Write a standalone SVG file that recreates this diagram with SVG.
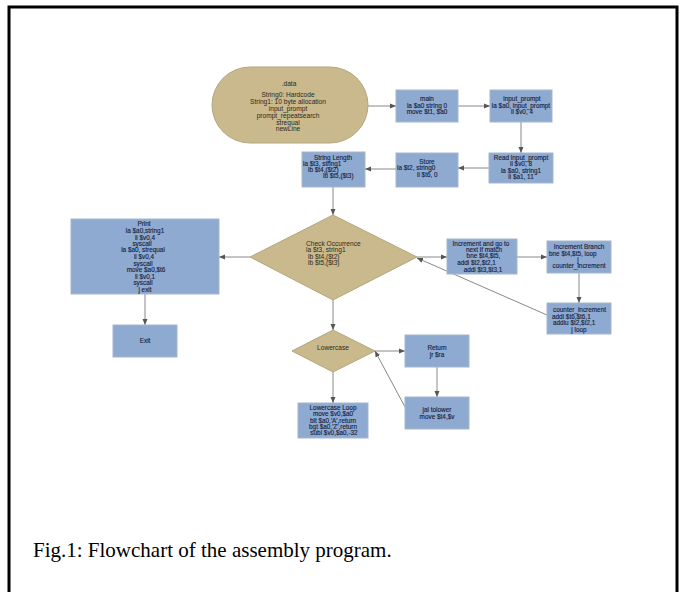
<svg xmlns="http://www.w3.org/2000/svg" width="680" height="592" viewBox="0 0 680 592">
<defs>
<marker id="ah" viewBox="0 0 6 6" refX="6" refY="3" markerWidth="6" markerHeight="6" markerUnits="userSpaceOnUse" orient="auto">
<path d="M0,0.5 L6,3 L0,5.5 Z" fill="#555"/>
</marker>
<style>
.box{fill:#8eaad1;stroke:#a6b6cc;stroke-width:1}
.tan{fill:#c9b98c;stroke:#b3a67e;stroke-width:1}
.t{font-family:"Liberation Sans",Arial,sans-serif;font-size:6.4px;fill:#16203a;text-anchor:middle;stroke:#16203a;stroke-width:0.12}
.tl{font-family:"Liberation Sans",Arial,sans-serif;font-size:6.4px;fill:#16203a;stroke:#16203a;stroke-width:0.12}
.tt{font-family:"Liberation Sans",Arial,sans-serif;font-size:6.6px;fill:#2a2a22;text-anchor:middle}
.ttl{font-family:"Liberation Sans",Arial,sans-serif;font-size:6.6px;fill:#2a2a22}
.c{stroke:#888;stroke-width:1;fill:none;marker-end:url(#ah)}
</style>
</defs>
<rect width="680" height="592" fill="#fff"/>
<path d="M9,600 V7 H677 V600" fill="none" stroke="#000" stroke-width="3"/>

<g id="connectors">
<line class="c" x1="368" y1="106" x2="396" y2="106"/>
<line class="c" x1="458" y1="106" x2="490" y2="106"/>
<line class="c" x1="521" y1="122" x2="521" y2="153"/>
<line class="c" x1="489" y1="168" x2="458" y2="168"/>
<line class="c" x1="396" y1="169" x2="365" y2="169"/>
<line class="c" x1="333" y1="187" x2="333" y2="215"/>
<line class="c" x1="250" y1="257" x2="219" y2="257"/>
<line class="c" x1="145" y1="294" x2="145" y2="325"/>
<line class="c" x1="417" y1="257" x2="447" y2="257"/>
<line class="c" x1="517" y1="257" x2="547" y2="257"/>
<line class="c" x1="579" y1="273" x2="579" y2="303"/>
<line class="c" x1="547" y1="315" x2="417" y2="258"/>
<line class="c" x1="333" y1="300" x2="333" y2="330"/>
<line class="c" x1="375" y1="351" x2="405" y2="351"/>
<line class="c" x1="437" y1="367" x2="437" y2="397"/>
<line class="c" x1="405" y1="407" x2="375" y2="351"/>
<line class="c" x1="333" y1="372" x2="333" y2="403"/>
</g>

<g id="data">
<rect class="tan" x="212" y="67" width="156" height="76" rx="38" ry="38"/>
<text class="tt" x="289" y="85.5">.data</text>
<text class="tt" x="288" y="97">String0: Hardcode</text>
<text class="tt" x="288" y="104.2">String1: 10 byte allocation</text>
<text class="tt" x="288" y="111">input_prompt</text>
<text class="tt" x="288" y="117.8">prompt_repeatsearch</text>
<text class="tt" x="288" y="124.6">strequal</text>
<text class="tt" x="288" y="131.4">newLine</text>
</g>

<g id="main">
<rect class="box" x="396" y="90" width="62" height="32"/>
<text class="t" x="427" y="101.3">main</text>
<text class="t" x="427" y="107.8">la $a0 string 0</text>
<text class="t" x="427" y="114.3">move $t1, $a0</text>
</g>

<g id="input_prompt">
<rect class="box" x="490" y="90" width="62" height="32"/>
<text class="t" x="522" y="101.3">input_prompt</text>
<text class="t" x="521" y="107.8">la $a0, input_prompt</text>
<text class="t" x="522" y="114.3">li $v0, 4</text>
</g>

<g id="read_input_prompt">
<rect class="box" x="489" y="153" width="64" height="30"/>
<text class="t" x="521" y="160.3">Read input_prompt</text>
<text class="t" x="521" y="166.4">li $v0, 8</text>
<text class="t" x="521" y="172.5">la $a0, string1</text>
<text class="t" x="521" y="178.6">li $a1, 11</text>
</g>

<g id="store">
<rect class="box" x="396" y="153" width="62" height="34"/>
<text class="t" x="427" y="164">Store</text>
<text class="tl" x="397" y="170.3">la $t2, string0</text>
<text class="tl" x="417" y="176.6">li $t6, 0</text>
</g>

<g id="string_length">
<rect class="box" x="302" y="152" width="63" height="35"/>
<text class="t" x="333" y="159.8">String Length</text>
<text class="tl" x="303" y="166">la $t3, string1</text>
<text class="tl" x="308" y="172.2">lb $t4,($t2)</text>
<text class="tl" x="323" y="178.4">lb $t5,($t3)</text>
</g>

<g id="check_occurrence">
<polygon class="tan" points="333,215 417,257 333,300 250,257"/>
<text class="ttl" x="306" y="246">Check Occurrence</text>
<text class="ttl" x="306" y="252.4">la $t3, string1</text>
<text class="ttl" x="308" y="258.8">lb $t4,($t2)</text>
<text class="ttl" x="308" y="265.2">lb $t5,($t3)</text>
</g>

<g id="print">
<rect class="box" x="71" y="219" width="148" height="75"/>
<text class="t" x="144" y="226.3">Print</text>
<text class="t" x="145" y="233">la $a0,string1</text>
<text class="t" x="145" y="239.6">li $v0,4</text>
<text class="t" x="142" y="245.8">syscall</text>
<text class="t" x="143" y="252.3">la $a0, strequal</text>
<text class="t" x="144" y="259">li $v0,4</text>
<text class="t" x="143" y="265.6">syscall</text>
<text class="t" x="146" y="272.3">move $a0,$t6</text>
<text class="t" x="145" y="278.5">li $v0,1</text>
<text class="t" x="143" y="285">syscall</text>
<text class="t" x="145" y="291.6">j exit</text>
</g>

<g id="exit">
<rect class="box" x="113" y="325" width="64" height="32"/>
<text class="t" x="145" y="343.3">Exit</text>
</g>

<g id="increment_next">
<rect class="box" x="447" y="239" width="70" height="35"/>
<text class="t" x="481" y="246.3">Increment and go to</text>
<text class="t" x="484" y="252.3">next if match</text>
<text class="t" x="483.5" y="258.3">bne $t4,$t5,</text>
<text class="t" x="476.5" y="265">addi $t2,$t2,1</text>
<text class="t" x="483" y="271.6">addi $t3,$t3,1</text>
</g>

<g id="increment_branch">
<rect class="box" x="547" y="241" width="64" height="32"/>
<text class="t" x="579" y="249">Increment Branch</text>
<text class="tl" x="549" y="255.6">bne $t4,$t5, loop</text>
<text class="t" x="578" y="261.6">j</text>
<text class="t" x="579" y="268.3">counter_increment</text>
</g>

<g id="counter_increment">
<rect class="box" x="547" y="303" width="64" height="31"/>
<text class="t" x="579.5" y="312.3">counter_increment</text>
<text class="tl" x="552" y="318.8">addi $t6,$t6,1</text>
<text class="tl" x="553" y="325.3">addiu $t2,$t2,1</text>
<text class="t" x="579" y="331.6">j loop</text>
</g>

<g id="lowercase">
<polygon class="tan" points="333,330 375,351 333,372 292,351"/>
<text class="tt" x="333" y="350">Lowercase</text>
</g>

<g id="return">
<rect class="box" x="405" y="335" width="64" height="32"/>
<text class="t" x="437" y="350">Return</text>
<text class="t" x="437" y="356.5">jr $ra</text>
</g>

<g id="jal_tolower">
<rect class="box" x="405" y="397" width="64" height="32"/>
<text class="t" x="437" y="412.3">jal tolower</text>
<text class="t" x="437" y="419">move $t4,$v</text>
</g>

<g id="lowercase_loop">
<rect class="box" x="298" y="403" width="70" height="35"/>
<text class="t" x="333" y="409.6">Lowercase Loop</text>
<text class="t" x="333" y="416.1">move $v0,$a0</text>
<text class="t" x="333" y="422.5">blt $a0,'A',return</text>
<text class="t" x="333" y="429">bgt $a0,'Z',return</text>
<text class="t" x="334" y="435.4">subi $v0,$a0,-32</text>
</g>

<text x="33" y="557" font-family="'Liberation Serif','Times New Roman',serif" font-size="21" fill="#000">Fig.1: Flowchart of the assembly program.</text>
</svg>
